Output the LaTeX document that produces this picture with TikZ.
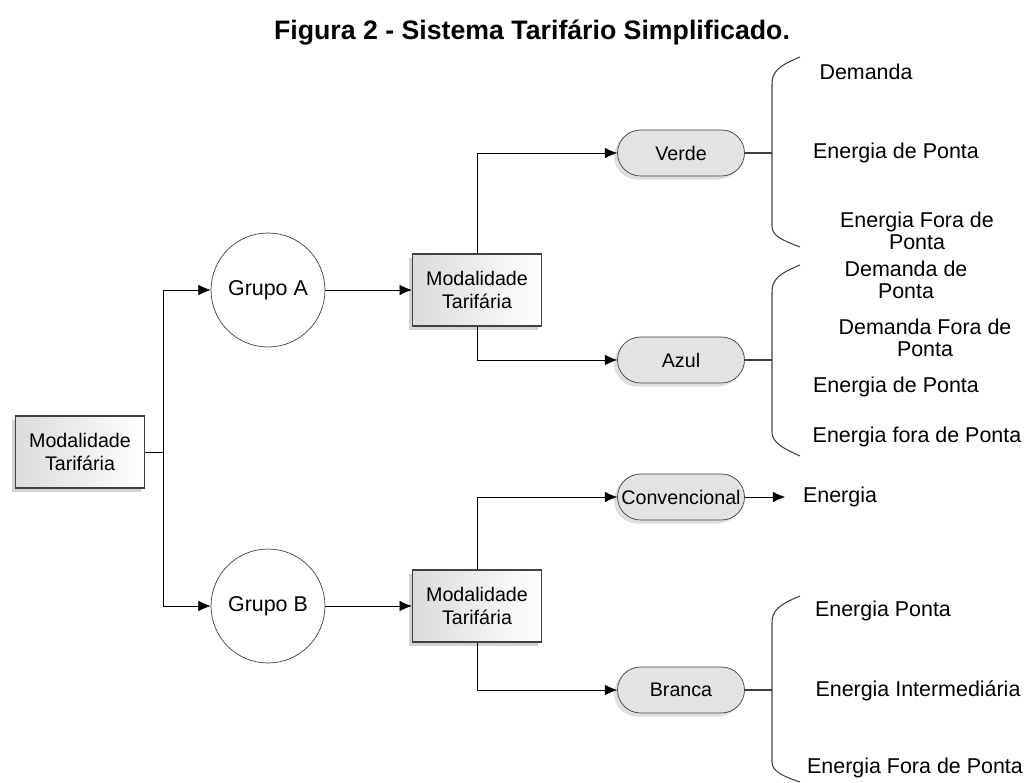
\documentclass[tikz,border=0pt]{standalone}
\usepackage{fontspec}
\setmainfont{Liberation Sans}
\usetikzlibrary{arrows.meta,shadows}

\begin{document}
\begin{tikzpicture}[
  x=0.02cm, y=-0.02cm,
  font=\fontsize{12.2}{12.6}\selectfont,
  modbox/.style={draw=black!75, line width=0.8pt, left color=gray!28, right color=white,
    minimum width=2.58cm, minimum height=1.44cm, align=center, inner sep=1pt,
    font=\fontsize{11.2}{13.4}\selectfont,
    drop shadow={shadow xshift=-2pt, shadow yshift=-2pt, opacity=0.35}},
  grupo/.style={draw=black!75, circle, fill=white, minimum size=2.28cm},
  pill/.style={draw=black!75, fill=gray!22, rounded corners=0.46cm,
    minimum width=2.54cm, minimum height=0.92cm, inner sep=1pt,
    font=\fontsize{11.2}{13.4}\selectfont,
    drop shadow={shadow xshift=-2pt, shadow yshift=-2pt, opacity=0.25}},
  item/.style={align=center, inner sep=1pt},
  arr/.style={-{Latex[length=7pt,width=6pt]}},
  brace/.style={draw=black!75, line width=0.6pt}
]
  \useasboundingbox (0,0) rectangle (1030,783);
  \node[font=\fontsize{15.2}{18}\selectfont\bfseries] (title) at (532,33)
    {Figura 2 - Sistema Tarif\'ario Simplificado.};

  \node[modbox] (mod) at (80,452) {Modalidade\\Tarif\'aria};
  \node[grupo] (grupoA) at (268,290) {Grupo A};
  \node[grupo] (grupoB) at (268,606) {Grupo B};
  \node[modbox] (modA) at (477,290) {Modalidade\\Tarif\'aria};
  \node[modbox] (modB) at (477,606) {Modalidade\\Tarif\'aria};

  \node[pill] (verde) at (681,153) {Verde};
  \node[pill] (azul) at (681,360) {Azul};
  \node[pill] (conv) at (681,497) {Convencional};
  \node[pill] (branca) at (681,690) {Branca};
  \node[item] (energia) at (840,497) {Energia};

  \coordinate (junc) at (163,452);
  \draw (mod) -- (junc);
  \draw[arr] (junc) |- (grupoA);
  \draw[arr] (junc) |- (grupoB);
  \draw[arr] (grupoA) -- (modA);
  \draw[arr] (grupoB) -- (modB);
  \draw[arr] (modA.north) |- (verde);
  \draw[arr] (modA.south) |- (azul);
  \draw[arr] (modB.north) |- (conv);
  \draw[arr] (modB.south) |- (branca);
  \draw[arr] (conv) -- ([xshift=-9pt]energia.west);

  % chaves
  \coordinate (bv) at (772,153);
  \coordinate (ba) at (772,360);
  \coordinate (bb) at (772,690);
  \draw[brace] (verde) -- (bv);
  \draw[brace] (azul) -- (ba);
  \draw[brace] (branca) -- (bb);
  \draw[brace] (800,57) .. controls (778,66) and (772,72) .. (772,84)
    -- (772,226) .. controls (772,236) and (782,240) .. (800,247);
  \draw[brace] (800,265) .. controls (778,274) and (772,280) .. (772,292)
    -- (772,432) .. controls (772,442) and (782,448) .. (800,456);
  \draw[brace] (800,596) .. controls (778,605) and (772,611) .. (772,623)
    -- (772,762) .. controls (772,771) and (782,776) .. (800,782);

  \node[item] (v1) at (866,72) {Demanda};
  \node[item] (v2) at (896,153) {Energia de Ponta};
  \node[item] (v3) at (917,231) {Energia Fora de\\Ponta};

  \node[item] (a1) at (906,280) {Demanda de\\Ponta};
  \node[item] (a2) at (925,338) {Demanda Fora de\\Ponta};
  \node[item] (a3) at (896,387) {Energia de Ponta};
  \node[item] (a4) at (917,437) {Energia fora de Ponta};

  \node[item] (b1) at (883,611) {Energia Ponta};
  \node[item] (b2) at (918,691) {Energia Intermedi\'aria};
  \node[item] (b3) at (915,768) {Energia Fora de Ponta};
\end{tikzpicture}
\end{document}
